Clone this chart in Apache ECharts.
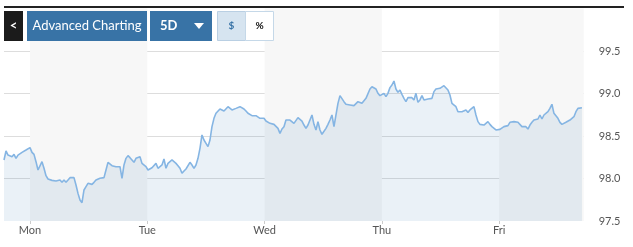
<!DOCTYPE html>
<html>
<head>
<meta charset="utf-8">
<script src="https://cdn.jsdelivr.net/npm/echarts@6/dist/echarts.min.js"></script>
<style>
html,body{margin:0;padding:0;background:#fff;}
#chart{width:633px;height:247px;}
</style>
</head>
<body>
<div id="chart"></div>
<script>
// Day labels and their positions (hours since Monday 00:00)
const dayLabels = ['Mon', 'Tue', 'Wed', 'Thu', 'Fri'];
const dayHours = [0, 24, 48, 72, 96];
// Price axis ticks
const yMin = 97.5, yMax = 100.0, yStep = 0.5;
// Sampling of the intraday feed
const startHour = -5.32;
const stepHour = 0.4092;
const endHour = 113.3;
// Prices
const prices = [
98.218,98.324,98.276,98.284,98.257,98.284,98.237,98.276,98.296,98.308,98.316,98.335,98.347,98.363,98.308,98.284,98.198,98.100,98.088,98.198,98.120,98.033,97.994,97.971,97.978,97.955,97.971,97.963,97.982,97.955,97.982,97.955,97.982,98.010,98.002,98.010,97.924,97.825,97.747,97.715,97.865,97.904,97.943,97.943,97.931,97.955,
97.982,97.994,98.002,97.994,98.010,98.100,98.190,98.167,98.151,98.139,98.139,98.151,98.139,98.002,98.159,98.237,98.269,98.245,98.218,98.190,98.237,98.245,98.257,98.178,98.159,98.139,98.100,98.120,98.127,98.139,98.178,98.120,98.120,98.159,98.229,98.120,98.178,98.198,98.218,98.198,98.178,98.151,98.120,98.061,98.088,98.112,98.120,98.190,98.159,98.120,
98.159,98.237,98.355,98.512,98.453,98.414,98.375,98.453,98.610,98.708,98.767,98.786,98.818,98.818,98.794,98.806,98.845,98.833,98.806,98.825,98.825,98.833,98.845,98.857,98.818,98.794,98.767,98.747,98.739,98.727,98.739,98.716,98.708,98.688,98.708,98.676,98.661,98.649,98.661,98.637,98.629,98.590,98.531,98.582,98.610,98.688,98.669,98.688,
98.669,98.649,98.637,98.716,98.708,98.676,98.629,98.590,98.629,98.688,98.747,98.637,98.571,98.669,98.571,98.520,98.531,98.590,98.637,98.688,98.747,98.610,98.610,98.884,98.975,98.963,98.904,98.873,98.884,98.865,98.865,98.857,98.873,98.904,98.896,98.884,98.873,98.943,98.963,99.053,99.080,99.069,99.053,99.002,98.975,98.990,99.002,
98.963,99.002,99.069,99.100,99.147,99.053,99.014,99.041,98.990,98.943,98.904,98.951,98.943,98.951,98.924,99.002,98.896,98.924,98.975,98.924,98.912,98.935,98.924,98.943,99.022,99.053,99.041,99.061,99.080,99.092,99.069,99.041,98.982,98.884,98.865,98.845,98.786,98.767,98.786,98.767,98.806,98.778,98.806,98.786,98.845,98.747,98.669,98.637,
98.637,98.629,98.649,98.669,98.637,98.610,98.590,98.571,98.559,98.578,98.582,98.610,98.629,98.622,98.661,98.676,98.669,98.688,98.661,98.649,98.610,98.598,98.610,98.582,98.629,98.661,98.688,98.708,98.700,98.747,98.700,98.747,98.727,98.786,98.825,98.873,98.767,98.747,98.708,98.661,98.637,98.622,98.661,98.669,98.688,98.708,98.727,98.786,98.825,98.818,98.833
];

const seriesData = prices.map((p, i) => [startHour + i * stepHour, p]);
const bands = [];
for (let k = 0; k < dayHours.length; k += 2) {
  const end = k + 1 < dayHours.length ? dayHours[k + 1] : endHour;
  bands.push([{ xAxis: dayHours[k] }, { xAxis: end }]);
}

const FONT = 'Lato, "Open Sans", sans-serif';
const BLUE = '#3873a6';

const chart = echarts.init(document.getElementById('chart'), null, { renderer: 'canvas' });
chart.setOption({
  animation: false,
  backgroundColor: '#ffffff',
  grid: { left: 4, right: 49.3, top: 8.5, bottom: 26 },
  xAxis: {
    type: 'value',
    min: startHour,
    max: endHour,
    axisLine: { show: false },
    splitLine: { show: false },
    axisTick: { show: true, customValues: dayHours, length: 3, lineStyle: { color: '#cccccc' } },
    axisLabel: {
      customValues: dayHours,
      margin: 4,
      color: '#555555',
      fontSize: 11,
      fontFamily: FONT,
      formatter: v => dayLabels[dayHours.indexOf(Math.round(v))] || ''
    }
  },
  yAxis: {
    type: 'value',
    position: 'right',
    min: yMin,
    max: yMax,
    interval: yStep,
    axisLine: { show: false },
    axisTick: { show: false },
    axisLabel: {
      showMaxLabel: false,
      margin: 15,
      color: '#555555',
      fontSize: 11,
      fontFamily: FONT,
      formatter: v => v.toFixed(1)
    },
    splitLine: {
      show: true,
      lineStyle: { color: ['transparent', '#dddddd', '#dddddd', '#dddddd', '#dddddd', 'transparent'], width: 1 }
    }
  },
  series: [
    {
      type: 'line',
      data: [],
      z: 1,
      silent: true,
      markArea: {
        silent: true,
        itemStyle: { color: '#f7f7f7' },
        data: bands
      }
    },
    {
      type: 'line',
      data: seriesData,
      z: 3,
      showSymbol: false,
      symbol: 'none',
      lineStyle: { color: '#85b5e3', width: 1.6 },
      areaStyle: { color: 'rgba(60,120,180,0.15)', origin: 'start' }
    }
  ],
  graphic: [
    { type: 'rect', shape: { x: 4, y: 6, width: 620, height: 2 }, style: { fill: '#222222' }, z: 100 },
    { type: 'rect', shape: { x: 4, y: 11, width: 19, height: 30 }, style: { fill: '#1b1b1b' }, z: 100 },
    { type: 'text', x: 13.5, y: 26, style: { text: '<', fill: '#ffffff', font: 'bold 13px ' + FONT, align: 'center', verticalAlign: 'middle' }, z: 101 },
    { type: 'rect', shape: { x: 27, y: 11, width: 120, height: 30 }, style: { fill: BLUE }, z: 100 },
    { type: 'text', x: 87, y: 26, style: { text: 'Advanced Charting', fill: '#ffffff', font: '13px ' + FONT, align: 'center', verticalAlign: 'middle' }, z: 101 },
    { type: 'rect', shape: { x: 150, y: 11, width: 62, height: 30 }, style: { fill: BLUE }, z: 100 },
    { type: 'text', x: 160, y: 26, style: { text: '5D', fill: '#ffffff', font: 'bold 13px ' + FONT, align: 'left', verticalAlign: 'middle' }, z: 101 },
    { type: 'polygon', shape: { points: [[194, 23], [204, 23], [199, 29]] }, style: { fill: '#ffffff' }, z: 101 },
    { type: 'rect', shape: { x: 217.5, y: 11.5, width: 28, height: 29 }, style: { fill: '#d6e4f0', stroke: '#b9cfe3', lineWidth: 1 }, z: 100 },
    { type: 'text', x: 231.5, y: 26, style: { text: '$', fill: BLUE, font: 'bold 10px ' + FONT, align: 'center', verticalAlign: 'middle' }, z: 101 },
    { type: 'rect', shape: { x: 245.5, y: 11.5, width: 28, height: 29 }, style: { fill: '#ffffff', stroke: '#c5d8e8', lineWidth: 1 }, z: 100 },
    { type: 'text', x: 259.5, y: 26, style: { text: '%', fill: '#111111', font: 'bold 10px ' + FONT, align: 'center', verticalAlign: 'middle' }, z: 101 }
  ]
});
</script>
</body>
</html>
